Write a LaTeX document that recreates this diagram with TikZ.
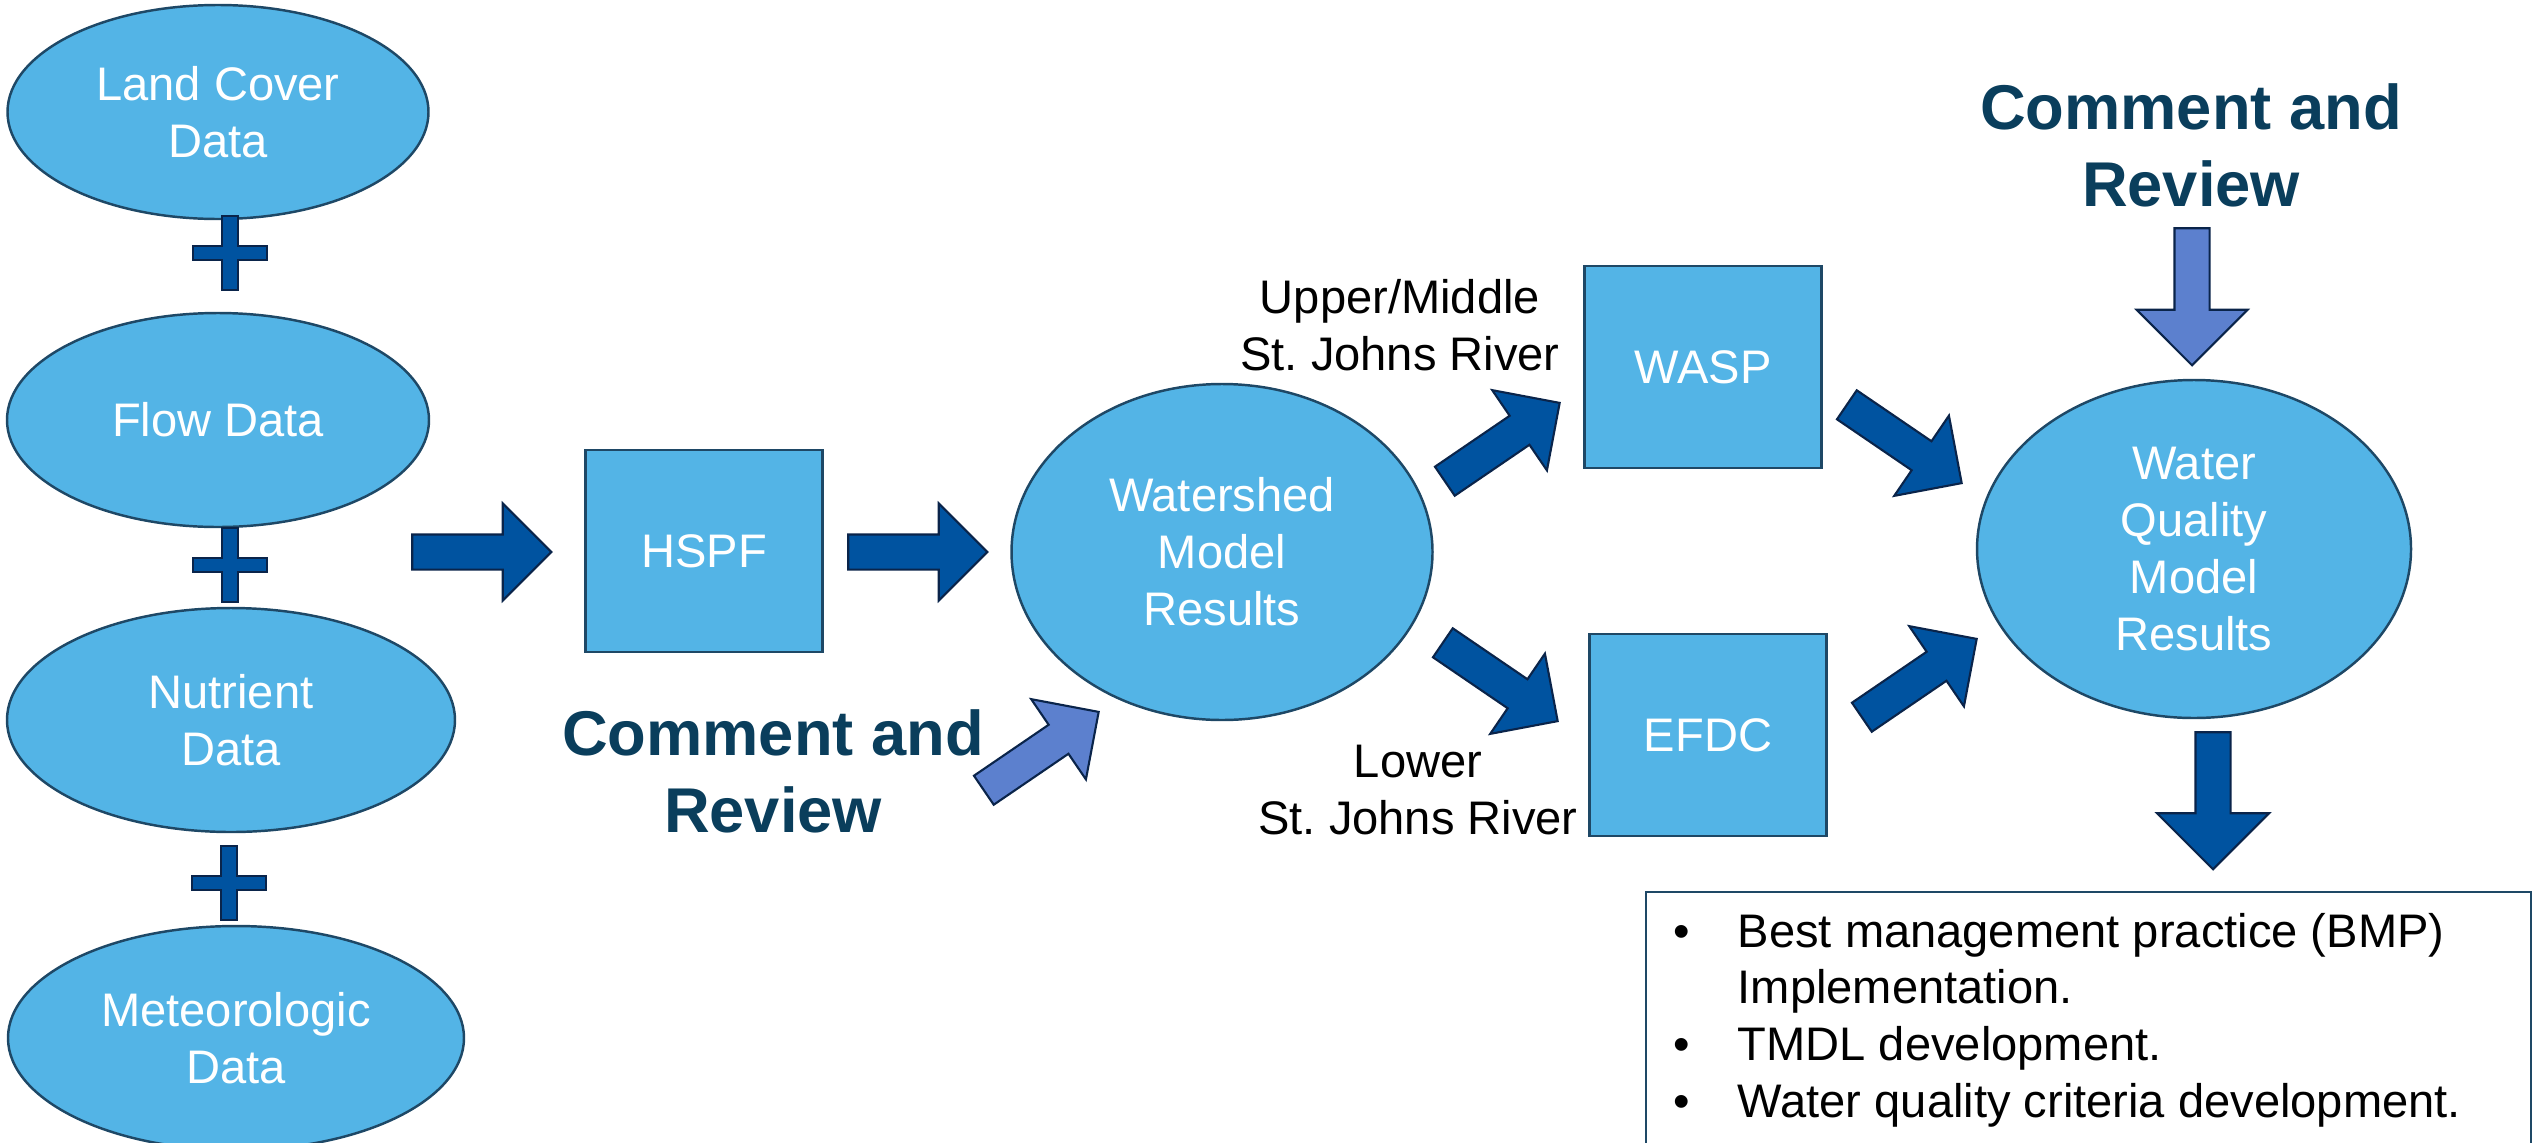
\documentclass[tikz,border=0pt]{standalone}
\usepackage{fontspec}
\setmainfont{Liberation Sans}
\usetikzlibrary{shapes.geometric,shapes.arrows}

\definecolor{skyfill}{RGB}{83,180,230}
\definecolor{edgeblue}{RGB}{30,72,102}
\definecolor{arrowdark}{RGB}{0,83,160}
\definecolor{arrowlight}{RGB}{92,128,206}
\definecolor{arrowedge}{RGB}{10,36,74}
\definecolor{reviewtext}{RGB}{10,62,92}

\tikzset{
  datanode/.style={ellipse, draw=edgeblue, fill=skyfill, line width=0.7pt, text=white, align=center, inner sep=0pt,
    font=\fontsize{13.4}{16.2}\selectfont},
  modelbox/.style={rectangle, draw=edgeblue, fill=skyfill, line width=0.7pt, text=white, align=center,
    minimum width=23.7mm, minimum height=20.2mm, font=\fontsize{13.4}{16.2}\selectfont},
  flowarrow/.style={single arrow, draw=arrowedge, fill=arrowdark, line width=0.6pt, inner xsep=0pt, inner ysep=1.65mm,
    minimum height=13.9mm, single arrow head extend=3.1mm},
  reviewarrow/.style={flowarrow, fill=arrowlight},
  reviewtxt/.style={text=reviewtext, align=center, font=\fontsize{18}{21.9}\selectfont\bfseries},
  rivertxt/.style={align=center, font=\fontsize{13.4}{16.2}\selectfont},
  plusmark/.pic={\draw[draw=arrowedge, fill=arrowdark, line width=0.6pt]
    (-8,-37) -- (8,-37) -- (8,-7) -- (37,-7) -- (37,7) -- (8,7) -- (8,37) -- (-8,37)
    -- (-8,7) -- (-37,7) -- (-37,-7) -- (-8,-7) -- cycle;}
}

\begin{document}
\begin{tikzpicture}[x=0.1mm, y=-0.1mm]
    \clip (0,0) rectangle (2539,1142);

    % input data
    \node[datanode, minimum width=42.1mm, minimum height=21.4mm] (land) at (218,112) {Land Cover\\Data};
    \node[datanode, minimum width=42.2mm, minimum height=21.4mm] (flow) at (218,420) {Flow Data};
    \node[datanode, minimum width=44.8mm, minimum height=22.4mm] (nutrient) at (231,720) {Nutrient\\Data};
    \node[datanode, minimum width=45.6mm, minimum height=22.4mm] (meteo) at (236,1038) {Meteorologic\\Data};
    \pic at (230,253) {plusmark};
    \pic at (230,565) {plusmark};
    \pic at (229,883) {plusmark};

    % models
    \node[modelbox] (hspf) at (704,551) {HSPF};
    \node[datanode, minimum width=42.1mm, minimum height=33.6mm] (wsm) at (1222,552) {Watershed\\Model\\Results};
    \node[modelbox] (wasp) at (1703,367) {WASP};
    \node[modelbox] (efdc) at (1708,735) {EFDC};
    \node[datanode, minimum width=43.4mm, minimum height=33.8mm] (wqm) at (2194,549) {Water\\Quality\\Model\\Results};

    \node[rivertxt] (upper) at (1400,325) {Upper/Middle\\St.\ Johns River};
    \node[rivertxt] (lower) at (1418,790) {Lower\\St.\ Johns River};

    % review
    \node[reviewtxt] (review1) at (773,771) {Comment and\\Review};
    \node[reviewtxt] (review2) at (2191,145) {Comment and\\Review};

    % block arrows
    \node[flowarrow] (a1) at (473,552) {};
    \node[flowarrow] (a2) at (909,552) {};
    \node[flowarrow, rotate=34.3] (a3) at (1495,447) {};
    \node[flowarrow, rotate=-34.3] (a4) at (1493,677) {};
    \node[flowarrow, rotate=-34.3] (a5) at (1897,439) {};
    \node[flowarrow, rotate=34.3] (a6) at (1912,683) {};
    \node[reviewarrow, rotate=34.3] (r1) at (1034,756) {};
    \node[reviewarrow, rotate=-90, minimum height=13.7mm, single arrow head extend=3.8mm] (r2) at (2192,288) {};
    \node[flowarrow, rotate=-90, minimum height=13.7mm, single arrow head extend=3.85mm] (a7) at (2213,792) {};

    % uses of the results
    \node[draw=edgeblue, line width=0.6pt, anchor=north west, minimum width=88.5mm, minimum height=30mm,
      inner sep=0pt] (usebox) at (1645,891) {};
    \node[anchor=base west, inner sep=0pt, font=\fontsize{13.4}{16.2}\selectfont] (uses) at (1673,947)
      {\begin{tabular}[t]{@{}p{6.4mm}@{}l@{}}
        \textbullet & Best management practice (BMP)\\
         & Implementation.\\
        \textbullet & TMDL development.\\
        \textbullet & Water quality criteria development.
      \end{tabular}};
\end{tikzpicture}
\end{document}
